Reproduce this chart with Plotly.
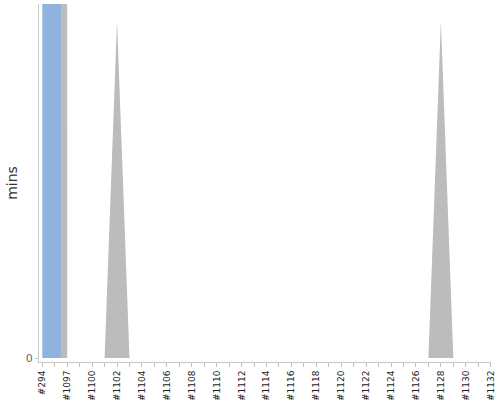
import plotly.graph_objects as go

# ---- data ----
builds = ["#294", "#1096", "#1097", "#1098"] + ["#%d" % n for n in range(1100, 1133)]
# build duration in minutes (the two first builds run far above the visible range)
durations = [500, 500, 0, 0, 0, 0, 0.9, 0, 0, 0, 0, 0, 0, 0, 0, 0, 0, 0, 0, 0,
             0, 0, 0, 0, 0, 0, 0, 0, 0, 0, 0, 0, 0.9, 0, 0, 0, 0]
status = ["success", "success"] + ["aborted"] * (len(builds) - 2)
status_colors = {"success": "#90b3de", "aborted": "#bcbcbc"}
y_max = 0.945

n = len(builds)
idx = list(range(n))

# each build's area spans from the midpoint with its previous build
# to the midpoint with its next build (stacked-area style), coloured per build.
def mid(a, b):
    return (a + b) / 2.0

fig = go.Figure()
i = 0
while i < n:
    j = i
    while j + 1 < n and status[j + 1] == status[i]:
        j += 1
    xs, ys = [], []
    if i == 0:
        xl, yl = idx[0], durations[0]
    else:
        xl, yl = mid(idx[i - 1], idx[i]), mid(durations[i - 1], durations[i])
    xs += [xl, xl]
    ys += [0, yl]
    for k in range(i, j + 1):
        xs.append(idx[k])
        ys.append(durations[k])
    if j == n - 1:
        xr, yr = idx[j], durations[j]
    else:
        xr, yr = mid(idx[j], idx[j + 1]), mid(durations[j], durations[j + 1])
    xs += [xr, xr]
    ys += [yr, 0]
    fig.add_trace(go.Scatter(x=xs, y=ys, mode="lines", fill="toself",
                             fillcolor=status_colors[status[i]],
                             line=dict(width=0), hoverinfo="skip",
                             showlegend=False))
    i = j + 1

px_per_unit = 448.4 / (n - 1)
fig.update_layout(
    width=500, height=400,
    margin=dict(l=39, r=9, t=4, b=38, autoexpand=False),
    paper_bgcolor="white", plot_bgcolor="white",
    font=dict(family="DejaVu Sans", color="#333333"),
    xaxis=dict(
        range=[-3.3 / px_per_unit, (n - 1) + 0.3 / px_per_unit],
        tickmode="array", tickvals=idx,
        ticktext=[b if k % 2 == 0 else "" for k, b in enumerate(builds)],
        tickangle=-90, tickfont=dict(size=9, color="#222222"),
        ticks="outside", ticklen=4, tickcolor="#c0c0c0",
        showline=True, linecolor="#c8c8c8", linewidth=1,
        showgrid=False, zeroline=False, fixedrange=True, automargin=False,
    ),
    yaxis=dict(
        range=[-4 * y_max / 354, y_max],
        tickmode="array", tickvals=[0], ticktext=["0"],
        tickfont=dict(size=11, color="#666666"),
        ticks="outside", ticklen=3, tickcolor="#c0c0c0",
        showline=True, linecolor="#c8c8c8", linewidth=1,
        showgrid=False, zeroline=False, fixedrange=True, automargin=False,
        title=dict(text="mins", font=dict(size=14, color="#333333"), standoff=4),
    ),
)

fig.write_html("out.html", config={"displayModeBar": False},
               post_script="document.body.style.margin='0';document.body.style.overflow='hidden';")
